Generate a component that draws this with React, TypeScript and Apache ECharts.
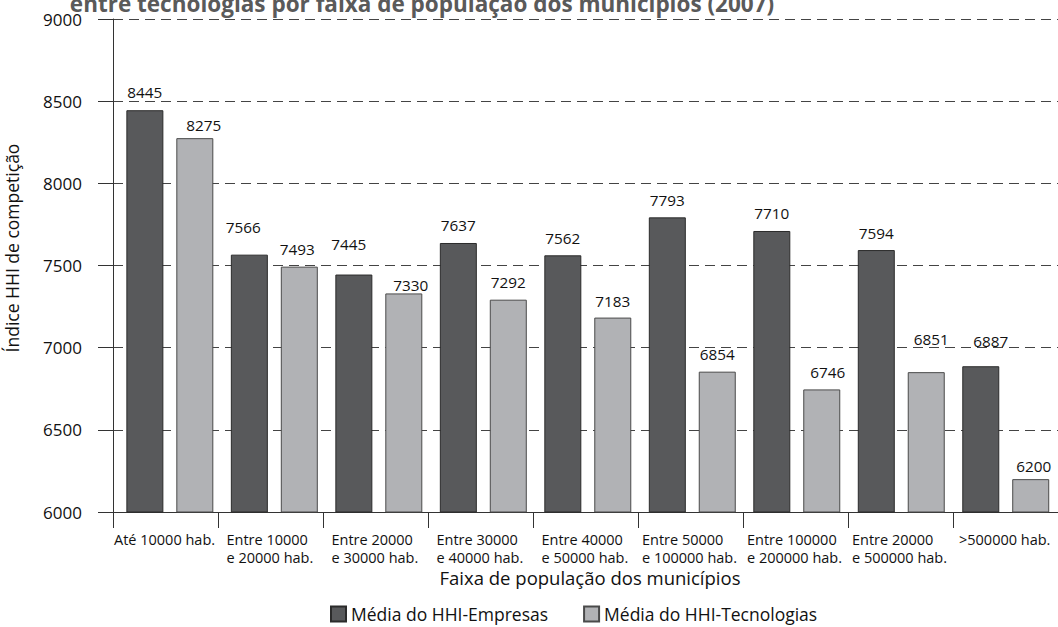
import React, { useEffect, useRef } from "react";
import * as echarts from "echarts";

const categories = [
  "Até 10000 hab.",
  "Entre 10000\ne 20000 hab.",
  "Entre 20000\ne 30000 hab.",
  "Entre 30000\ne 40000 hab.",
  "Entre 40000\ne 50000 hab.",
  "Entre 50000\ne 100000 hab.",
  "Entre 100000\ne 200000 hab.",
  "Entre 20000\ne 500000 hab.",
  ">500000 hab.",
];
const empresas = [8445, 7566, 7445, 7637, 7562, 7793, 7710, 7594, 6887];
const tecnologias = [8275, 7493, 7330, 7292, 7183, 6854, 6746, 6851, 6200];
const seriesNames = ["Média do HHI-Empresas", "Média do HHI-Tecnologias"];
const yMin = 6000;
const yMax = 9000;
const yStep = 500;
const title = "entre tecnologias por faixa de população dos municípios (2007)";
const xName = "Faixa de população dos municípios";
const yName = "Índice HHI de competição";

// small nudges [dx, dy] of the value labels, as placed in the original
const empresasLabelNudge = [[0, -1], [-6, -10], [-5, -13], [0, 0], [0, 0], [0, 0], [0, 0], [0, 0], [10, -8]];
const tecnologiasLabelNudge = [[9, 4], [-2, 0], [7, 9], [0, 0], [0, 1], [0, 0], [6, 0], [5, -16], [3, 4]];

const FONT = "'Open Sans', 'DejaVu Sans', sans-serif";
const LABEL_SIZE = 14.5;

function measure(text: string, size: number): number {
  const c = document.createElement("canvas").getContext("2d");
  if (!c) return text.length * size * 0.55;
  c.font = `${size}px 'Open Sans'`;
  return c.measureText(text).width;
}

function withNudges(values: number[], nudges: number[][]) {
  return values.map((v, i) => ({
    value: v,
    label: { offset: nudges[i] },
  }));
}

export default function App() {
  const ref = useRef<HTMLDivElement>(null);
  useEffect(() => {
    if (!ref.current) return;
    const chart = echarts.init(ref.current, undefined, { renderer: "svg" });

    const rich: Record<string, any> = {};
    categories.forEach((c, i) => {
      const lines = c.split("\n");
      const w = Math.ceil(Math.max(...lines.map((l) => measure(l, LABEL_SIZE)))) + 1;
      rich["w" + i] = {
        width: w,
        align: "left",
        fontSize: LABEL_SIZE,
        lineHeight: 18,
        color: "#111",
        fontFamily: FONT,
      };
    });

    const valueLabel = {
      show: true,
      position: "top",
      distance: 10,
      color: "#111",
      fontSize: 15.3,
      fontFamily: FONT,
    };

    chart.setOption({
      animation: false,
      textStyle: { fontFamily: FONT },
      grid: [
        { left: 113, right: -7, top: 19, bottom: 115 },
        { left: 117.6, width: 942.3, top: 19, bottom: 115 },
      ],
      xAxis: [
        {
          gridIndex: 0,
          type: "category",
          data: categories,
          axisLine: { show: true, lineStyle: { color: "#333", width: 1 } },
          axisTick: { show: true, length: 16, interval: 0, lineStyle: { color: "#333" } },
          axisLabel: {
            interval: 0,
            margin: 18,
            color: "#111",
            fontSize: LABEL_SIZE,
            lineHeight: 18,
            formatter: (v: string) => {
              const i = categories.indexOf(v);
              return v
                .split("\n")
                .map((l) => `{w${i}|${l}}`)
                .join("\n");
            },
            rich,
          },
          splitLine: { show: false },
        },
        { gridIndex: 1, type: "category", data: categories, show: false },
      ],
      yAxis: [
        {
          gridIndex: 0,
          type: "value",
          min: yMin,
          max: yMax,
          interval: yStep,
          axisLine: { show: true, lineStyle: { color: "#333", width: 1 } },
          axisTick: { show: true, length: 15, lineStyle: { color: "#333" } },
          axisLabel: { color: "#111", fontSize: 17, margin: 31, formatter: (v: number) => String(v) },
          splitLine: { show: true, lineStyle: { type: [10, 6], color: "#444", width: 1 } },
        },
        { gridIndex: 1, type: "value", min: yMin, max: yMax, interval: yStep, show: false },
      ],
      legend: {
        left: 330,
        top: 605,
        padding: 0,
        itemWidth: 15,
        itemHeight: 15,
        itemGap: 35,
        icon: "rect",
        textStyle: { fontSize: 17.5, lineHeight: 18, color: "#111", fontFamily: FONT },
        data: seriesNames,
      },
      graphic: [
        {
          type: "text",
          x: 422,
          y: 3,
          style: {
            text: title,
            align: "center",
            verticalAlign: "middle",
            fontSize: 22.5,
            fontWeight: "bold",
            fontFamily: FONT,
            fill: "#5a5a5a",
          },
        },
        {
          type: "text",
          x: 12,
          y: 248,
          rotation: Math.PI / 2,
          style: {
            text: yName,
            align: "center",
            verticalAlign: "middle",
            fontSize: 17.5,
            fontFamily: FONT,
            fill: "#111",
          },
        },
        {
          type: "text",
          x: 590,
          y: 577,
          style: {
            text: xName,
            align: "center",
            verticalAlign: "middle",
            fontSize: 18.5,
            fontFamily: FONT,
            fill: "#111",
          },
        },
      ],
      series: [
        {
          type: "bar",
          name: seriesNames[0],
          xAxisIndex: 1,
          yAxisIndex: 1,
          data: withNudges(empresas, empresasLabelNudge),
          barWidth: 37,
          barGap: "35%",
          itemStyle: { color: "#58595b", borderColor: "#2b2b2b", borderWidth: 1 },
          label: valueLabel,
        },
        {
          type: "bar",
          name: seriesNames[1],
          xAxisIndex: 1,
          yAxisIndex: 1,
          data: withNudges(tecnologias, tecnologiasLabelNudge),
          barWidth: 37,
          barGap: "35%",
          itemStyle: { color: "#b1b2b5", borderColor: "#4a4a4a", borderWidth: 1 },
          label: valueLabel,
        },
      ],
    });
    return () => chart.dispose();
  }, []);
  return (
    <div
      ref={ref}
      style={{ position: "absolute", left: 0, top: 0, width: 1058, height: 627, background: "#fff" }}
    />
  );
}
